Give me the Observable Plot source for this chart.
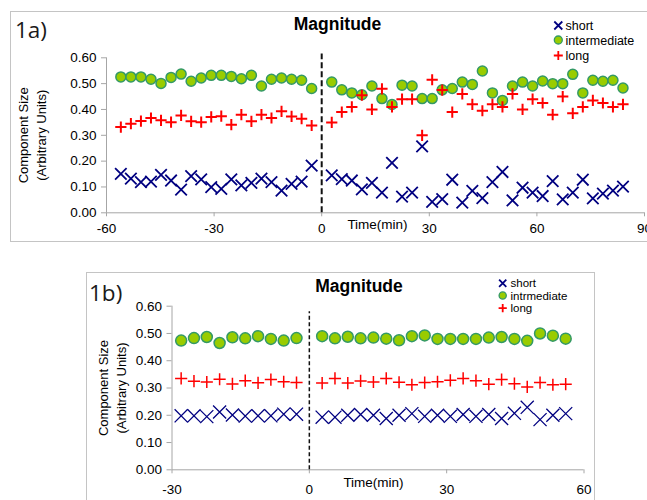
<!DOCTYPE html>
<html><head><meta charset="utf-8">
<script src="https://cdn.jsdelivr.net/npm/d3@7"></script>
<script src="https://cdn.jsdelivr.net/npm/@observablehq/plot@0.6"></script>
<style>
html,body{margin:0;padding:0;background:#fff;overflow:hidden;width:647px;height:500px}
#root{position:relative;width:647px;height:500px;overflow:hidden;background:#fff}
.box{position:absolute;border:1px solid #c4c4c4;box-sizing:border-box;pointer-events:none}
</style></head><body><div id="root"></div>
<script>
// ---------- Panel 1a data ----------
const times1a = [-56.0,-53.2,-50.4,-47.6,-44.8,-42.0,-39.2,-36.4,-33.6,-30.8,-28.0,-25.2,-22.4,-19.6,-16.8,-14.0,-11.2,-8.4,-5.6,-2.8,
  2.8,5.6,8.4,11.2,14.0,16.8,19.6,22.4,25.2,28.0,30.8,33.6,36.4,39.2,42.0,44.8,47.6,50.4,53.2,56.0,58.8,61.6,64.4,67.2,70.0,72.8,75.6,78.4,81.2,84.0];
const short1a = [0.151,0.132,0.119,0.121,0.147,0.125,0.090,0.142,0.129,0.099,0.093,0.129,0.106,0.116,0.132,0.119,0.086,0.112,0.121,0.183,
  0.145,0.130,0.125,0.091,0.116,0.078,0.193,0.063,0.078,0.257,0.042,0.053,0.128,0.039,0.085,0.057,0.119,0.158,0.048,0.097,0.078,0.065,0.123,0.052,0.078,0.128,0.056,0.074,0.086,0.101];
const intermediate1a = [0.526,0.526,0.526,0.517,0.501,0.524,0.537,0.509,0.522,0.532,0.532,0.528,0.519,0.532,0.491,0.517,0.522,0.517,0.513,0.481,
  0.506,0.476,0.464,0.457,0.491,0.442,0.419,0.494,0.491,0.442,0.442,0.476,0.481,0.506,0.497,0.549,0.464,0.435,0.491,0.506,0.491,0.510,0.500,0.500,0.536,0.464,0.513,0.509,0.513,0.483];
const long1a = [0.332,0.345,0.355,0.367,0.358,0.351,0.377,0.354,0.351,0.371,0.374,0.341,0.380,0.354,0.380,0.367,0.393,0.373,0.364,0.338,
  0.35,0.39,0.41,0.455,0.40,0.48,0.41,0.44,0.44,0.30,0.515,0.475,0.39,0.46,0.42,0.395,0.42,0.41,0.46,0.40,0.44,0.425,0.38,0.45,0.385,0.41,0.435,0.425,0.41,0.42];
const xTicks1a = [-60,-30,0,30,60,90];
const legend1a = ["short","intermediate","long"];

// ---------- Panel 1b data ----------
const times1b = [-28.0,-25.2,-22.4,-19.6,-16.8,-14.0,-11.2,-8.4,-5.6,-2.8,
  2.8,5.6,8.4,11.2,14.0,16.8,19.6,22.4,25.2,28.0,30.8,33.6,36.4,39.2,42.0,44.8,47.6,50.4,53.2,56.0];
const short1b = [0.198,0.198,0.195,0.212,0.201,0.197,0.198,0.198,0.204,0.204,
  0.193,0.193,0.200,0.203,0.200,0.188,0.200,0.206,0.196,0.200,0.196,0.203,0.196,0.203,0.188,0.207,0.229,0.184,0.200,0.206];
const intermediate1b = [0.474,0.483,0.487,0.465,0.486,0.482,0.490,0.480,0.474,0.483,
  0.490,0.482,0.488,0.482,0.485,0.481,0.475,0.490,0.493,0.480,0.480,0.480,0.480,0.485,0.487,0.480,0.473,0.500,0.492,0.481];
const long1b = [0.335,0.325,0.322,0.332,0.315,0.327,0.319,0.331,0.323,0.320,
  0.318,0.335,0.318,0.326,0.322,0.335,0.321,0.312,0.320,0.323,0.328,0.335,0.327,0.314,0.331,0.316,0.304,0.320,0.312,0.314];
const xTicks1b = [-30,0,30,60];
const legend1b = ["short","intrmediate","long"];

const yTicks = [0,0.1,0.2,0.3,0.4,0.5,0.6];
const axisLabel = "Time(min)";
const yTitle = "Component Size\n(Arbitrary Units)";
const titleText = "Magnitude";

const rows = (t, v) => t.map((x, i) => ({t: x, v: v[i]}));
const FONT = "'Liberation Sans', Arial, Helvetica, sans-serif";
const GREEN = "#99cc00", GREEN_S = "#339966", RED = "#ff0000", NAVY = "#000080", AX = "#a6a6a6";

function panel(o) {
  return Plot.plot({
    width: 647, height: o.height,
    marginLeft: o.ml, marginRight: o.mr, marginTop: o.mt, marginBottom: o.mb,
    x: {domain: o.xdom},
    y: {domain: [0, 0.6]},
    style: {fontFamily: FONT, fontSize: o.fs + "px", color: "#000", background: "transparent", overflow: "visible"},
    marks: [
      Plot.ruleY([0], {stroke: AX, strokeWidth: 1}),
      Plot.ruleX([o.xdom[0]], {stroke: AX, strokeWidth: 1}),
      Plot.axisY({ticks: yTicks, tickFormat: d3.format(".2f"), tickSize: 5, tickPadding: 5, stroke: AX, fill: "#000", fontSize: o.fs, label: null}),
      Plot.axisX({ticks: o.xticks, tickFormat: d => String(d), tickSize: 4, tickPadding: o.xpad, stroke: AX, fill: "#000", fontSize: o.fs, label: null}),
      Plot.ruleX([0], {y1: 0, y2: o.dashTop, stroke: "#111", strokeWidth: o.dashW, strokeDasharray: o.dash}),
      Plot.dot(rows(o.times, o.s), {x: "t", y: "v", symbol: "times", r: o.rs, stroke: NAVY, strokeWidth: o.sws}),
      Plot.dot(rows(o.times, o.i), {x: "t", y: "v", r: o.ri, fill: GREEN, stroke: GREEN_S, strokeWidth: 1.5}),
      Plot.dot(rows(o.times, o.l), {x: "t", y: "v", symbol: "plus", r: o.rl, stroke: RED, strokeWidth: o.swl}),
      Plot.text([yTitle], {text: d => d, frameAnchor: "left", textAnchor: "middle", lineAnchor: "middle", dx: o.ytdx, rotate: -90, lineHeight: 1.36, fontSize: 13, fill: "#000"}),
      Plot.text([axisLabel], {text: d => d, frameAnchor: "bottom", textAnchor: "middle", dx: o.tdx, dy: o.tdy, fontSize: o.fs, fill: "#000"})
    ]
  });
}

const root = document.getElementById("root");

const pA = panel({height: 250, ml: 106, mr: 3, mt: 57.3, mb: 37.7, xdom: [-60, 90], xticks: xTicks1a, xpad: 7, fs: 13.5,
  times: times1a, s: short1a, i: intermediate1a, l: long1a, rs: 5.3, sws: 1.8, ri: 5, rl: 3.7, swl: 2,
  dashTop: 0.615, dashW: 2, dash: "6,3", ytdx: -75, tdx: 2, tdy: 15.7});
pA.style.position = "absolute"; pA.style.left = "0px"; pA.style.top = "0px";
root.appendChild(pA);

const pB = panel({height: 240, ml: 171.5, mr: 63.5, mt: 45.7, mb: 30.7, xdom: [-30, 60], xticks: xTicks1b, xpad: 11, fs: 13.5,
  times: times1b, s: short1b, i: intermediate1b, l: long1b, rs: 6, sws: 1.3, ri: 5.5, rl: 4.0, swl: 1.5,
  dashTop: 0.58, dashW: 1.5, dash: "4,2.5", ytdx: -60.5, tdx: -4.5, tdy: 16.7});
pB.style.position = "absolute"; pB.style.left = "0px"; pB.style.top = "260px";
root.appendChild(pB);

// panel frames
root.insertAdjacentHTML("beforeend",
  '<div class="box" style="left:10px;top:11px;width:660px;height:231px"></div>' +
  '<div class="box" style="left:86px;top:272px;width:509px;height:250px"></div>');

// titles, panel labels, legends
const ov = d3.create("svg").attr("width", 647).attr("height", 500)
  .style("position", "absolute").style("left", "0px").style("top", "0px").style("pointer-events", "none")
  .attr("font-family", FONT);
ov.append("text").attr("x", 15).attr("y", 38).attr("font-family", "'Open Sans', sans-serif").attr("font-size", 22.5).attr("fill", "#1a1a1a").text("1a)");
ov.append("text").attr("x", 89).attr("y", 300.5).attr("font-family", "'Open Sans', sans-serif").attr("font-size", 22.5).attr("fill", "#1a1a1a").text("1b)");
ov.append("text").attr("x", 337.5).attr("y", 30).attr("text-anchor", "middle").attr("font-weight", "bold").attr("font-size", 17.5).text(titleText);
ov.append("text").attr("x", 359).attr("y", 292).attr("text-anchor", "middle").attr("font-weight", "bold").attr("font-size", 17.5).text(titleText);

function legend(names, mx, ys, tx, fs, k) {
  names.forEach((name, j) => {
    const y = ys[j];
    if (j === 0) {
      ov.append("path").attr("d", `M${mx-k},${y-k}L${mx+k},${y+k}M${mx-k},${y+k}L${mx+k},${y-k}`).attr("stroke", NAVY).attr("stroke-width", 1.8).attr("fill", "none");
    } else if (j === 1) {
      ov.append("circle").attr("cx", mx).attr("cy", y).attr("r", k).attr("fill", GREEN).attr("stroke", GREEN_S).attr("stroke-width", 1.3);
    } else {
      ov.append("path").attr("d", `M${mx-k-0.5},${y}L${mx+k+0.5},${y}M${mx},${y-k-0.5}L${mx},${y+k+0.5}`).attr("stroke", RED).attr("stroke-width", 1.8).attr("fill", "none");
    }
    ov.append("text").attr("x", tx).attr("y", y + fs * 0.36).attr("font-size", fs).attr("fill", "#000").text(name);
  });
}
legend(legend1a, 558.3, [25.5, 40, 55.5], 565.5, 12.5, 4);
legend(legend1b, 502.7, [283.3, 295.5, 308.2], 510.5, 11.5, 3.6);
root.appendChild(ov.node());
</script></body></html>
